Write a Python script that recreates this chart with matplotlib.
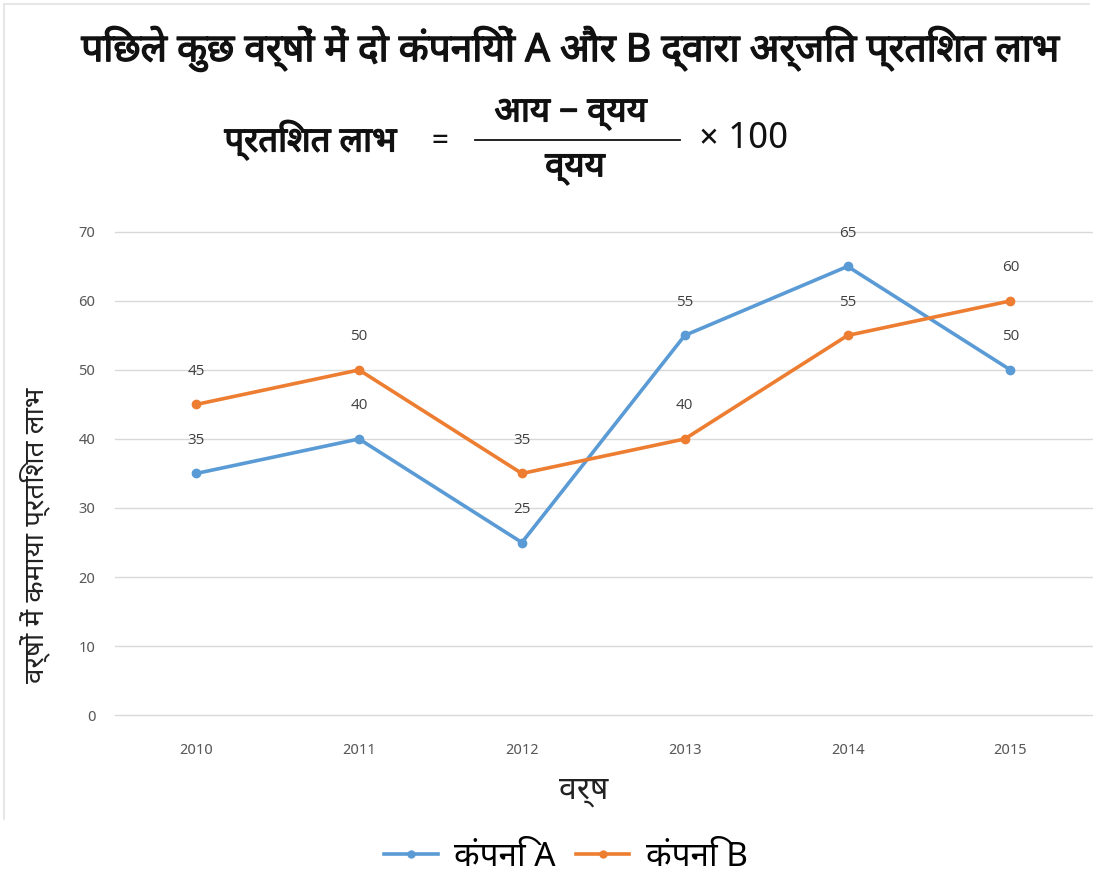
import matplotlib
matplotlib.use("Agg")
import matplotlib.pyplot as plt
from matplotlib import font_manager
from matplotlib.lines import Line2D
import matplotlib.patheffects as pe

years = ["2010", "2011", "2012", "2013", "2014", "2015"]
company_a = [35, 40, 25, 55, 65, 50]
company_b = [45, 50, 35, 40, 55, 60]
series_names = ["कंपनि A", "कंपनि B"]
y_ticks = [0, 10, 20, 30, 40, 50, 60, 70]

title = "पिछले कुछ वर्षों में दो कंपनियों A और B द्वारा अर्जित प्रतिशत लाभ"
formula_left = "प्रतिशत लाभ"
formula_num = "आय − व्यय"
formula_den = "व्यय"
y_label = "वर्षों में कमाया प्रतिशत लाभ"
x_label = "वर्ष"

available = {f.name for f in font_manager.fontManager.ttflist}
cands = ["Noto Sans Devanagari", "Lohit Devanagari", "Mangal", "Nirmala UI",
         "Kohinoor Devanagari", "FreeSans", "Gargi", "Samanata"]
fams = [c for c in cands if c in available] + ["DejaVu Sans"]
plt.rcParams['font.family'] = fams

blue = "#5B9BD5"
orange = "#ED7D31"
bold = [pe.withStroke(linewidth=1.0, foreground="#111111")]

fig = plt.figure(figsize=(10.93, 8.85), dpi=100)
ax = fig.add_axes([0.105, 0.192, 0.894, 0.546])

x = list(range(len(years)))
ax.plot(x, company_a, color=blue, lw=2.6, marker="o", ms=6, label=series_names[0], zorder=3)
ax.plot(x, company_b, color=orange, lw=2.6, marker="o", ms=6, label=series_names[1], zorder=3)

for series in (company_a, company_b):
    for xi, v in zip(x, series):
        ax.annotate(str(v), (xi, v), xytext=(0, 24), textcoords="offset points",
                    ha="center", va="center", fontsize=11, color="#404040",
                    family=["Open Sans", "DejaVu Sans"])

ax.set_xlim(-0.5, len(years) - 0.5)
ax.set_ylim(0, 70)
ax.set_yticks(y_ticks)
ax.set_xticks(x)
ax.set_xticklabels(years)
ax.grid(axis="y", color="#d9d9d9", lw=1)
for gl in ax.get_ygridlines():
    gl.set_clip_on(False)
ax.set_axisbelow(True)
for s in ax.spines.values():
    s.set_visible(False)
ax.tick_params(length=0, colors="#595959", labelsize=11, pad=14)
ax.tick_params(axis="x", pad=20)

ax.set_ylabel(y_label, fontsize=20, color="#222222")
ax.yaxis.set_label_coords(-0.066, 0.373)
fig.text(0.534, 0.107, x_label, ha="center", va="center", fontsize=23, color="#222222")

# title and formula
fig.text(0.522, 0.945, title, ha="center", va="center", fontsize=28,
         color="#111111", path_effects=bold)
fig.text(0.284, 0.842, formula_left, ha="center", va="center", fontsize=25,
         color="#111111", path_effects=bold)
fig.text(0.402, 0.841, "=", ha="center", va="center", fontsize=22, color="#111111")
fig.text(0.522, 0.872, formula_num, ha="center", va="center", fontsize=25,
         color="#111111", path_effects=bold)
fig.add_artist(Line2D([0.435, 0.622], [0.842, 0.842], color="#111111", lw=1.3))
fig.text(0.526, 0.810, formula_den, ha="center", va="center", fontsize=25,
         color="#111111", path_effects=bold)
fig.text(0.680, 0.843, "× 100", ha="center", va="center", fontsize=26, color="#111111")

handles = [Line2D([0], [0], color=blue, lw=2.6, marker="o", ms=5),
           Line2D([0], [0], color=orange, lw=2.6, marker="o", ms=5)]
fig.legend(handles, series_names, loc="center", bbox_to_anchor=(0.518, 0.031),
           ncol=2, frameon=False, fontsize=24, handlelength=1.6,
           columnspacing=0.6, handletextpad=0.5)

# faint frame lines at the image edge
fig.add_artist(Line2D([0.004, 0.004], [0.075, 0.996], color="#e3e3e3", lw=1.2))
fig.add_artist(Line2D([0.004, 0.996], [0.996, 0.996], color="#e3e3e3", lw=1.2))

fig.savefig("out.png", dpi=100, facecolor="white")
